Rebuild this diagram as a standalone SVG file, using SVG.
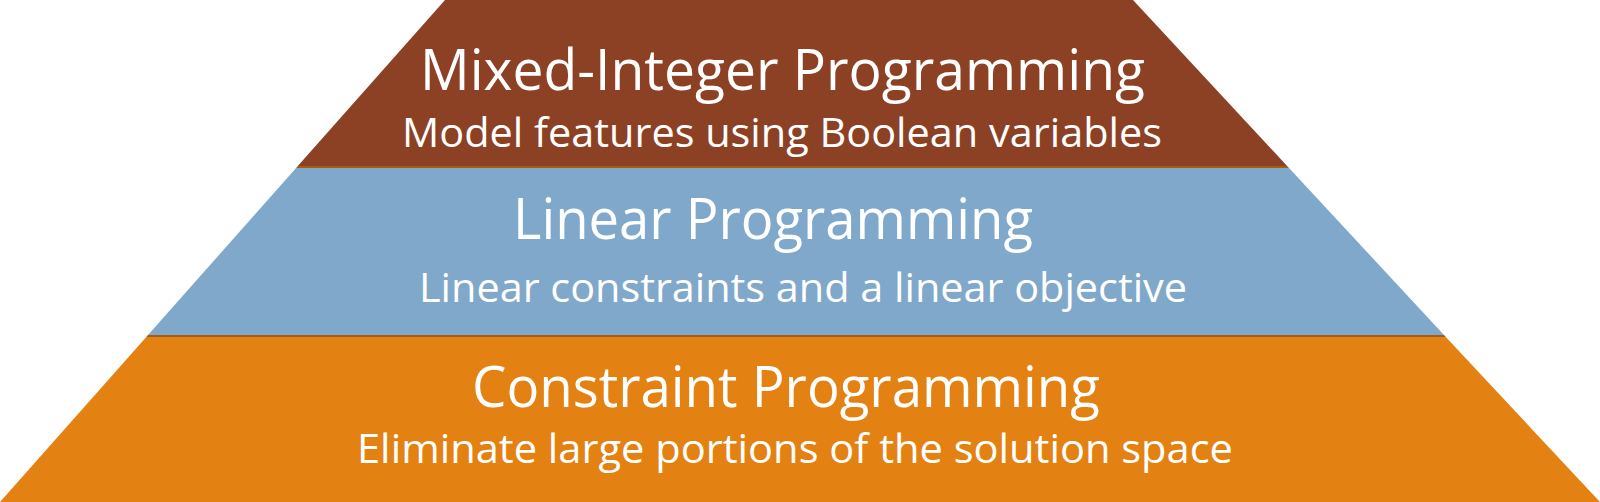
<svg xmlns="http://www.w3.org/2000/svg" width="1600" height="502" viewBox="0 0 1600 502">
<style>
.t{font-family:"Open Sans","Liberation Sans",sans-serif;fill:#FFFFFF;}
.h{font-size:57px;}
.s{font-size:41px;}
.sep{fill:#A85B13;}
</style>
<rect width="1600" height="502" fill="#FFFFFF"/>
<g id="mip">
<polygon points="445,0 1133,0 1287.1,166 297.8,166" fill="#8C4124"/>
<text class="t h" x="420" y="90" textLength="725" lengthAdjust="spacingAndGlyphs">Mixed-Integer Programming</text>
<text class="t s" x="402" y="147" textLength="760" lengthAdjust="spacingAndGlyphs">Model features using Boolean variables</text>
</g>
<g id="lp">
<polygon points="296.1,168 1289,168 1444,335 148,335" fill="#7FA8CA"/>
<text class="t h" x="513" y="239" textLength="520" lengthAdjust="spacingAndGlyphs">Linear Programming</text>
<text class="t s" x="419" y="302" textLength="768" lengthAdjust="spacingAndGlyphs">Linear constraints and a linear objective</text>
</g>
<g id="cp">
<polygon points="146.3,337 1445.8,337 1600,502 0,502" fill="#E38213"/>
<text class="t h" x="472" y="407" textLength="628" lengthAdjust="spacingAndGlyphs">Constraint Programming</text>
<text class="t s" x="357" y="463" textLength="876" lengthAdjust="spacingAndGlyphs">Eliminate large portions of the solution space</text>
</g>
<g id="connectors">
<polygon class="sep" points="297.8,166 1287.1,166 1289,168 296.1,168"/>
<polygon class="sep" points="148,335 1444,335 1445.8,337 146.3,337"/>
</g>
</svg>
